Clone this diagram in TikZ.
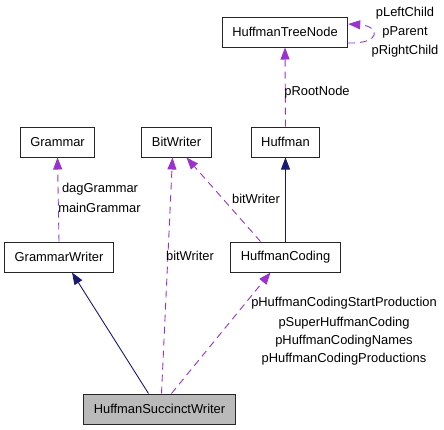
\documentclass[tikz,border=0pt]{standalone}
\usepackage{fontspec}
\setmainfont{Liberation Sans}
\usetikzlibrary{arrows.meta}
\definecolor{usecol}{HTML}{9A32CD}
\definecolor{inhcol}{HTML}{191970}

\begin{document}
\begin{tikzpicture}[x=1pt,y=-1pt,font=\fontsize{12.9}{15}\selectfont,
 cls/.style={draw=black!85,line width=1pt,fill=white,minimum height=30pt,inner xsep=10pt},
 inh/.style={draw=inhcol,line width=0.9pt,-{Triangle[length=12pt,width=9pt]}},
 use/.style={draw=usecol,line width=0.9pt,dash pattern=on 7pt off 5pt,-{Triangle[length=12pt,width=9pt]}},
 lbl/.style={inner sep=1pt}]
\useasboundingbox (0,0) rectangle (444,429);
\node[cls] (htn) at (285,32) {HuffmanTreeNode};
\node[cls] (huff) at (285.5,142) {Huffman};
\node[cls] (bw) at (176.5,142) {BitWriter};
\node[cls] (gram) at (57.5,142) {Grammar};
\node[cls] (gw) at (59,257) {GrammarWriter};
\node[cls] (hc) at (285.5,257) {HuffmanCoding};
\node[cls,fill=black!27] (hsw) at (159.5,409) {HuffmanSuccinctWriter};
% self reference of the tree node
\draw[use] ([yshift=-11pt]htn.east) .. controls (382,44) and (380,26) .. ([yshift=8pt]htn.east);
\node[lbl] (lc) at (405,13) {pLeftChild};
\node[lbl] (pp) at (405,32) {pParent};
\node[lbl] (rc) at (405,51) {pRightChild};
\draw[use] (huff.north) -- (htn.south);
\node[lbl] (rn) at (317,92) {pRootNode};
\draw[inh] (hc.north) -- (huff.south);
\draw[use] ([xshift=-25pt]hc.north) -- ([xshift=10pt]bw.south);
\node[lbl] (bw1) at (256,199) {bitWriter};
\draw[use] (gw.north) -- (gram.south);
\node[lbl] (dg) at (100,189) {dagGrammar};
\node[lbl] (mg) at (99.5,208) {mainGrammar};
\draw[inh] ([xshift=-11pt]hsw.north) -- ([xshift=13pt]gw.south);
\draw[use] ([xshift=2pt]hsw.north) -- ([xshift=-4pt]bw.south);
\node[lbl] (bw2) at (190,256) {bitWriter};
\draw[use] ([xshift=12pt]hsw.north) -- ([xshift=-15pt]hc.south);
\node[lbl] (p1) at (344,303) {pHuffmanCodingStartProduction};
\node[lbl] (p2) at (344,323) {pSuperHuffmanCoding};
\node[lbl] (p3) at (344,341) {pHuffmanCodingNames};
\node[lbl] (p4) at (344,359) {pHuffmanCodingProductions};
\end{tikzpicture}
\end{document}
